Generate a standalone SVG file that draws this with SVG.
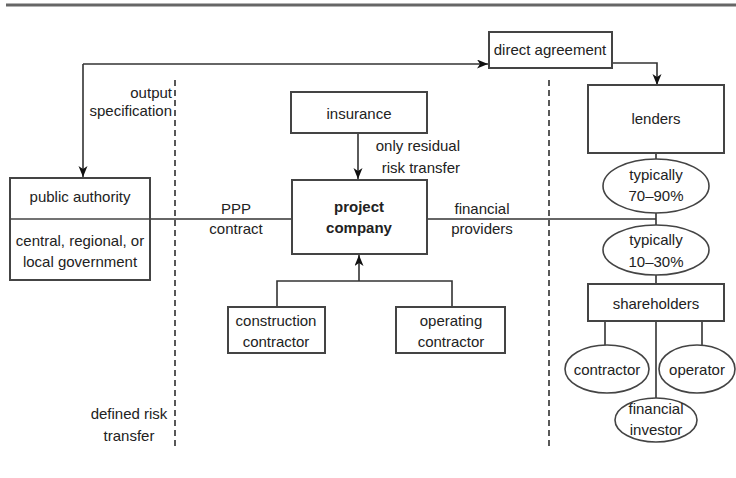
<svg xmlns="http://www.w3.org/2000/svg" width="736" height="478" viewBox="0 0 736 478">
<style>
text{font-family:"Liberation Sans",Arial,sans-serif;font-size:15px;fill:#222;}
.c{text-anchor:middle;dominant-baseline:central;}
.r{text-anchor:end;dominant-baseline:central;}
.b{font-weight:bold;}
.box{fill:#fff;stroke:#444;stroke-width:2;}
.ell{fill:#fff;stroke:#444;stroke-width:1.6;}
.ln{fill:none;stroke:#333;stroke-width:1.6;}
.dash{fill:none;stroke:#222;stroke-width:1.5;stroke-dasharray:6 4;}
</style>
<defs>
<marker id="ah" markerUnits="userSpaceOnUse" markerWidth="12" markerHeight="10" refX="11" refY="4.5" orient="auto">
<path d="M0,0 L11,4.5 L0,9 L3,4.5 z" fill="#111"/>
</marker>
</defs>
<rect width="736" height="478" fill="#fff"/>
<line x1="6" y1="5" x2="736" y2="5" stroke="#666" stroke-width="3"/>

<g id="boundaries">
<line class="dash" x1="175" y1="80" x2="175" y2="450"/>
<line class="dash" x1="549" y1="80" x2="549" y2="450"/>
<text class="r" x="172" y="92">output</text>
<text class="r" x="172" y="110">specification</text>
<text class="c" x="129" y="413">defined risk</text>
<text class="c" x="129" y="435">transfer</text>
</g>

<g id="connectors">
<path class="ln" d="M83,64 H488" marker-end="url(#ah)"/>
<path class="ln" d="M83,64 V177" marker-end="url(#ah)"/>
<path class="ln" d="M612,63 H657 V85" marker-end="url(#ah)"/>
<path class="ln" d="M358,133 V179" marker-end="url(#ah)"/>
<path class="ln" d="M277,307 V281 H452 V307"/>
<path class="ln" d="M359,281 V255" marker-end="url(#ah)"/>
<path class="ln" d="M150,219 H292"/>
<path class="ln" d="M427,219 H656"/>
<path class="ln" d="M656,153 V284"/>
<path class="ln" d="M605,321 V346"/>
<path class="ln" d="M656,321 V398"/>
<path class="ln" d="M702,321 V346"/>
<text class="c" x="236" y="208">PPP</text>
<text class="c" x="236" y="228">contract</text>
<text class="c" x="482" y="208">financial</text>
<text class="c" x="482" y="228">providers</text>
<text class="r" x="460" y="145">only residual</text>
<text class="r" x="460" y="167">risk transfer</text>
</g>

<g id="direct-agreement">
<rect class="box" x="489" y="32" width="123" height="36"/>
<text class="c" x="550" y="49">direct agreement</text>
</g>

<g id="public-authority">
<rect class="box" x="10" y="178" width="140" height="102"/>
<line x1="10" y1="219" x2="150" y2="219" stroke="#444" stroke-width="1.6"/>
<text class="c" x="80" y="196">public authority</text>
<text class="c" x="80" y="240">central, regional, or</text>
<text class="c" x="80" y="261">local government</text>
</g>

<g id="insurance">
<rect class="box" x="291" y="92" width="136" height="41"/>
<text class="c" x="359" y="113">insurance</text>
</g>

<g id="project-company">
<rect class="box" x="292" y="180" width="135" height="74"/>
<text class="c b" x="359" y="206">project</text>
<text class="c b" x="359" y="227">company</text>
</g>

<g id="construction-contractor">
<rect class="box" x="228" y="307" width="97" height="46"/>
<text class="c" x="276" y="320">construction</text>
<text class="c" x="276" y="341">contractor</text>
</g>

<g id="operating-contractor">
<rect class="box" x="396" y="307" width="109" height="46"/>
<text class="c" x="451" y="320">operating</text>
<text class="c" x="451" y="341">contractor</text>
</g>

<g id="lenders">
<rect class="box" x="588" y="85" width="136" height="68"/>
<text class="c" x="656" y="118">lenders</text>
</g>

<g id="typically-70-90">
<ellipse class="ell" cx="656" cy="186" rx="53" ry="27"/>
<text class="c" x="656" y="174">typically</text>
<text class="c" x="656" y="195">70–90%</text>
</g>

<g id="typically-10-30">
<ellipse class="ell" cx="656" cy="250" rx="53" ry="25"/>
<text class="c" x="656" y="239">typically</text>
<text class="c" x="656" y="261">10–30%</text>
</g>

<g id="shareholders">
<rect class="box" x="588" y="284" width="136" height="37"/>
<text class="c" x="656" y="303">shareholders</text>
</g>

<g id="contractor">
<ellipse class="ell" cx="607" cy="369" rx="42" ry="24"/>
<text class="c" x="607" y="369">contractor</text>
</g>

<g id="operator">
<ellipse class="ell" cx="697" cy="369" rx="38" ry="24"/>
<text class="c" x="697" y="369">operator</text>
</g>

<g id="financial-investor">
<ellipse class="ell" cx="656" cy="420" rx="41" ry="22"/>
<text class="c" x="656" y="408">financial</text>
<text class="c" x="656" y="429">investor</text>
</g>
</svg>
